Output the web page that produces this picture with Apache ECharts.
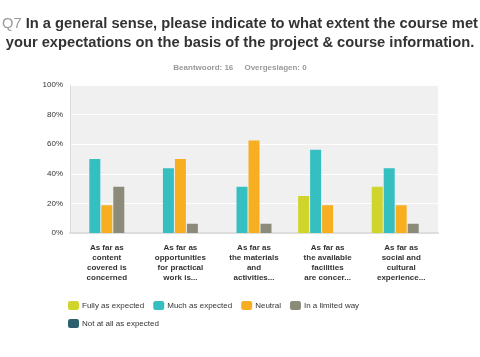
<!DOCTYPE html>
<html><head><meta charset="utf-8">
<script src="https://cdn.jsdelivr.net/npm/echarts@6/dist/echarts.min.js"></script>
<style>html,body{margin:0;padding:0;background:#fff}#c{width:480px;height:357px}</style>
</head><body><div id="c"></div>
<script>
var categories = [
  "As far as\ncontent\ncovered is\nconcerned",
  "As far as\nopportunities\nfor practical\nwork is...",
  "As far as\nthe materials\nand\nactivities...",
  "As far as\nthe available\nfacilities\nare concer...",
  "As far as\nsocial and\ncultural\nexperience..."
];
var seriesNames = ["Fully as expected","Much as expected","Neutral","In a limited way","Not at all as expected"];
var fully   = [0, 0, 0, 25, 31.25];
var much    = [50, 43.75, 31.25, 56.25, 43.75];
var neutral = [18.75, 50, 62.5, 18.75, 18.75];
var limited = [31.25, 6.25, 6.25, 0, 6.25];
var notAtAll= [0, 0, 0, 0, 0];
var yTicks = [0,20,40,60,80,100];
var colors = ["#cfd52b","#35bfc1","#f7ae21","#8c8b7a","#2e5f6f"];
var values = [fully, much, neutral, limited, notAtAll];

var chart = echarts.init(document.getElementById('c'), null, {renderer:'canvas'});
var series = seriesNames.map(function(n,i){
  return {name:n, type:'bar', data:values[i], barWidth:11, barGap:'9%',
    itemStyle:{color:colors[i]}, silent:true};
});
chart.setOption({
  animation:false,
  title:[{
    text:'{q|Q7} In a general sense, please indicate to what extent the course met\nyour expectations on the basis of the project & course information.',
    left:'center', top:9,
    textStyle:{fontFamily:'Liberation Sans', fontSize:14.7, fontWeight:'bold', color:'#333', lineHeight:19,
      rich:{q:{color:'#999', fontFamily:'Liberation Sans', fontSize:14.7, fontWeight:'normal'}}}
  },{
    text:'Beantwoord: 16     Overgeslagen: 0',
    left:'center', top:59,
    textStyle:{fontFamily:'Liberation Sans', fontSize:8, fontWeight:'bold', color:'#999'}
  }],
  grid:{left:70, right:42, top:85, height:148, containLabel:false, show:true, backgroundColor:'#f0f0f0', borderWidth:0},
  legend:{
    data:seriesNames, left:68, top:301, width:300, itemWidth:11, itemHeight:9, itemGap:9,
    orient:'horizontal', padding:[0,0,0,0],
    textStyle:{fontFamily:'Liberation Sans', fontSize:8, color:'#333', padding:[0,0,0,-2]},
    icon:'roundRect', selectedMode:false
  },
  xAxis:{type:'category', data:categories,
    axisLine:{show:true, lineStyle:{color:'#ddd', width:2}}, axisTick:{show:false},
    axisLabel:{interval:0, fontFamily:'Liberation Sans', fontSize:8, fontWeight:'bold', color:'#333', lineHeight:10, margin:10}},
  yAxis:{type:'value', min:0, max:100, interval:20,
    axisLabel:{formatter:function(v){return v+'%';}, fontFamily:'Liberation Sans', fontSize:8, color:'#333', margin:7},
    axisLine:{show:true, lineStyle:{color:'#ddd', width:1}}, axisTick:{show:false},
    splitLine:{lineStyle:{color:'#fff', width:1}}},
  series:series
});
</script></body></html>
